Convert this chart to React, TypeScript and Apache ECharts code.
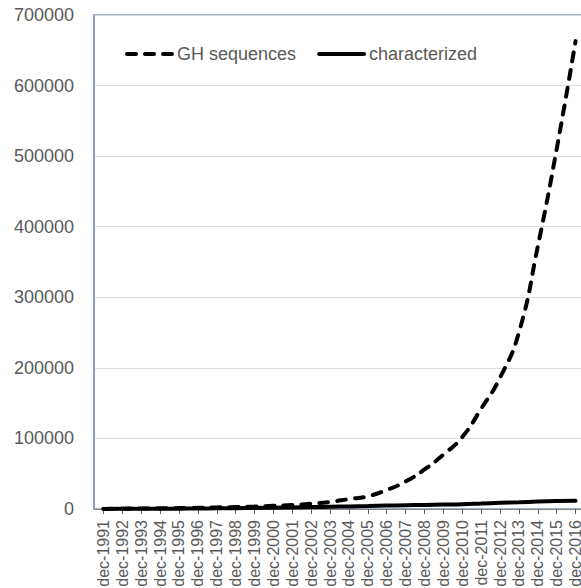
import React, { useEffect, useRef } from "react";
import * as echarts from "echarts";

const categories = [
  "dec-1991", "dec-1992", "dec-1993", "dec-1994", "dec-1995", "dec-1996", "dec-1997",
  "dec-1998", "dec-1999", "dec-2000", "dec-2001", "dec-2002", "dec-2003", "dec-2004",
  "dec-2005", "dec-2006", "dec-2007", "dec-2008", "dec-2009", "dec-2010", "dec-2011",
  "dec-2012", "dec-2013", "dec-2014", "dec-2015", "dec-2016",
];

const ghSequences = [
  0, 500, 800, 1000, 1300, 1700, 2200, 2800, 3500, 4500, 5500, 7500, 10000, 14000,
  18000, 27000, 39000, 56000, 77000, 102000, 142000, 186000, 250000, 372000, 510000, 663000,
];

const characterized = [
  100, 200, 300, 400, 500, 700, 900, 1200, 1500, 1800, 2200, 2700, 3200, 3700,
  4200, 4800, 5300, 5800, 6300, 6800, 7800, 8800, 9600, 10500, 11300, 11800,
];

const seriesNames = ["GH sequences", "characterized"];

export default function App() {
  const ref = useRef<HTMLDivElement>(null);
  useEffect(() => {
    document.body.style.margin = "0";
    if (!ref.current) return;
    const chart = echarts.init(ref.current, null, { renderer: "svg" });
    const font = "'Liberation Sans', Arial, sans-serif";
    chart.setOption({
      animation: false,
      backgroundColor: "#ffffff",
      textStyle: { fontFamily: font },
      legend: {
        left: 125,
        top: 45,
        padding: 0,
        itemWidth: 45,
        itemHeight: 14,
        itemGap: 21,
        itemStyle: { opacity: 0 },
        lineStyle: { width: 4 },
        textStyle: { fontSize: 18, color: "#595959", fontFamily: font },
        data: seriesNames,
      },
      grid: {
        left: 94,
        top: 15,
        width: 491,
        height: 494,
        containLabel: false,
        outerBoundsMode: "none",
        show: true,
        borderColor: "#8497c4",
        borderWidth: 1.5,
        backgroundColor: "transparent",
      },
      xAxis: {
        type: "category",
        data: categories,
        boundaryGap: true,
        axisLine: { show: true, lineStyle: { color: "#868686", width: 1 } },
        axisTick: { show: true, alignWithLabel: true, length: 5, lineStyle: { color: "#595959" } },
        axisLabel: {
          rotate: 90,
          interval: 0,
          margin: 11,
          fontSize: 16,
          lineHeight: 12,
          color: "#595959",
          fontFamily: font,
        },
        splitLine: { show: false },
      },
      yAxis: {
        type: "value",
        min: 0,
        max: 700000,
        interval: 100000,
        axisLine: { show: true, lineStyle: { color: "#8497c4", width: 1.5 } },
        axisTick: { show: false },
        axisLabel: {
          fontSize: 18,
          color: "#595959",
          margin: 20,
          fontFamily: font,
          formatter: (v: number) => String(v),
        },
        splitLine: { show: true, lineStyle: { color: "#d9d9d9", width: 1 } },
      },
      series: [
        {
          name: seriesNames[1],
          type: "line",
          data: characterized,
          symbol: "none",
          smooth: 0.5,
          lineStyle: { color: "#000000", width: 4, type: "solid", cap: "round" },
          itemStyle: { color: "#000000" },
        },
        {
          name: seriesNames[0],
          type: "line",
          data: ghSequences,
          symbol: "none",
          smooth: 0.5,
          lineStyle: { color: "#000000", width: 4, type: [9, 9], cap: "round" },
          itemStyle: { color: "#000000" },
        },
      ],
    });
    return () => chart.dispose();
  }, []);
  return <div ref={ref} style={{ width: 581, height: 588 }} />;
}
